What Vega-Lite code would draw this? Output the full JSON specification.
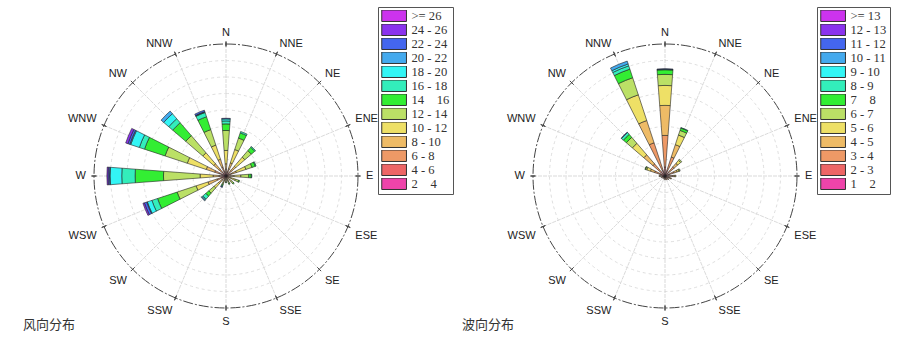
{
  "$schema": "https://vega.github.io/schema/vega-lite/v6.json",
  "padding": 0,
  "background": "white",
  "spacing": 0,
  "bounds": "flush",
  "config": {"view": {"stroke": null}, "text": {"font": "Liberation Sans", "fontSize": 11, "color": "#222", "radius": 140}},
  "datasets": {
    "rings": [{"r": 1}, {"r": 2}, {"r": 3}, {"r": 4}, {"r": 5}, {"r": 6}, {"r": 7}, {"r": 8}],
    "wind": [
      {"dir": "N", "deg": 0, "b01": 0.09, "b02": 0.15, "b03": 0.18, "b04": 0.32, "b05": 0.81, "b06": 1.21, "b07": 0.40, "b08": 0.18, "b09": 0.12, "b11": 0.04},
      {"dir": "NNE", "deg": 22.5, "b01": 0.09, "b02": 0.15, "b03": 0.21, "b04": 0.39, "b05": 0.85, "b06": 0.73, "b07": 0.33, "b08": 0.09},
      {"dir": "NE", "deg": 45, "b01": 0.09, "b02": 0.15, "b03": 0.21, "b04": 0.33, "b05": 0.73, "b06": 0.52, "b07": 0.27, "b08": 0.06},
      {"dir": "ENE", "deg": 67.5, "b01": 0.09, "b02": 0.12, "b03": 0.18, "b04": 0.27, "b05": 0.61, "b06": 0.39, "b07": 0.21, "b08": 0.05},
      {"dir": "E", "deg": 90, "b01": 0.06, "b02": 0.09, "b03": 0.12, "b04": 0.21, "b05": 0.42, "b06": 0.48, "b07": 0.15, "b08": 0.03},
      {"dir": "ESE", "deg": 112.5, "b01": 0.05, "b02": 0.07, "b03": 0.09, "b04": 0.15, "b05": 0.24, "b06": 0.21, "b07": 0.06},
      {"dir": "SE", "deg": 135, "b01": 0.06, "b02": 0.06, "b03": 0.09, "b04": 0.09, "b05": 0.15, "b06": 0.15, "b07": 0.06},
      {"dir": "SSE", "deg": 157.5, "b01": 0.05, "b02": 0.06, "b03": 0.06, "b04": 0.07, "b05": 0.12, "b06": 0.12, "b07": 0.06},
      {"dir": "S", "deg": 180, "b01": 0.05, "b02": 0.06, "b03": 0.06, "b04": 0.07, "b05": 0.09, "b06": 0.06, "b07": 0.03},
      {"dir": "SSW", "deg": 202.5, "b01": 0.03, "b02": 0.06, "b03": 0.09, "b04": 0.12, "b05": 0.12, "b06": 0.12, "b07": 0.09, "b08": 0.06, "b11": 0.04},
      {"dir": "SW", "deg": 225, "b01": 0.06, "b02": 0.12, "b03": 0.15, "b04": 0.27, "b05": 0.36, "b06": 0.42, "b07": 0.24, "b08": 0.24, "b09": 0.06, "b10": 0.06},
      {"dir": "WSW", "deg": 247.5, "b01": 0.12, "b02": 0.18, "b03": 0.27, "b04": 0.58, "b05": 0.76, "b06": 1.21, "b07": 1.25, "b08": 0.36, "b09": 0.29, "b10": 0.04, "b11": 0.15, "b12": 0.09},
      {"dir": "W", "deg": 270, "b01": 0.12, "b02": 0.12, "b03": 0.18, "b04": 0.36, "b05": 0.79, "b06": 2.22, "b07": 1.72, "b08": 0.81, "b09": 0.71, "b10": 0.03, "b11": 0.09, "b12": 0.07},
      {"dir": "WNW", "deg": 292.5, "b01": 0.18, "b02": 0.24, "b03": 0.30, "b04": 0.54, "b05": 1.21, "b06": 1.42, "b07": 1.31, "b08": 0.33, "b09": 0.55, "b10": 0.06, "b11": 0.12, "b12": 0.14},
      {"dir": "NW", "deg": 315, "b01": 0.12, "b02": 0.18, "b03": 0.24, "b04": 0.44, "b05": 0.88, "b06": 1.36, "b07": 1.04, "b08": 0.32, "b09": 0.40, "b10": 0.21},
      {"dir": "NNW", "deg": 337.5, "b01": 0.12, "b02": 0.18, "b03": 0.27, "b04": 0.50, "b05": 0.90, "b06": 0.99, "b07": 0.82, "b08": 0.27, "b09": 0.03, "b10": 0.03, "b11": 0.09}
    ],
    "wave": [
      {"dir": "N", "deg": 0, "b01": 0.18, "b02": 0.36, "b03": 1.92, "b04": 1.82, "b05": 1.21, "b06": 0.67, "b07": 0.28, "b08": 0.03, "b11": 0.03},
      {"dir": "NNE", "deg": 22.5, "b01": 0.12, "b02": 0.24, "b03": 0.85, "b04": 0.79, "b05": 0.61, "b06": 0.30, "b07": 0.15, "b08": 0.03},
      {"dir": "NE", "deg": 45, "b01": 0.12, "b02": 0.18, "b03": 0.42, "b04": 0.30, "b05": 0.24, "b06": 0.08},
      {"dir": "ENE", "deg": 67.5, "b01": 0.09, "b02": 0.18, "b03": 0.30, "b04": 0.21, "b05": 0.12, "b06": 0.06},
      {"dir": "E", "deg": 90, "b01": 0.09, "b02": 0.15, "b03": 0.24, "b04": 0.12, "b05": 0.06},
      {"dir": "ESE", "deg": 112.5, "b01": 0.09, "b02": 0.12, "b03": 0.15, "b04": 0.06},
      {"dir": "SE", "deg": 135, "b01": 0.06, "b02": 0.09, "b03": 0.12, "b04": 0.03},
      {"dir": "SSE", "deg": 157.5, "b01": 0.06, "b02": 0.09, "b03": 0.09},
      {"dir": "S", "deg": 180, "b01": 0.06, "b02": 0.09, "b03": 0.09},
      {"dir": "SSW", "deg": 202.5, "b01": 0.06, "b02": 0.06, "b03": 0.06},
      {"dir": "SW", "deg": 225, "b01": 0.06, "b02": 0.06, "b03": 0.06},
      {"dir": "WSW", "deg": 247.5, "b01": 0.06, "b02": 0.09, "b03": 0.09},
      {"dir": "W", "deg": 270, "b01": 0.06, "b02": 0.12, "b03": 0.12, "b04": 0.06},
      {"dir": "WNW", "deg": 292.5, "b01": 0.12, "b02": 0.18, "b03": 0.36, "b04": 0.27, "b05": 0.24, "b06": 0.08, "b07": 0.03},
      {"dir": "NW", "deg": 315, "b01": 0.12, "b02": 0.24, "b03": 0.61, "b04": 0.73, "b05": 0.91, "b06": 0.48, "b07": 0.24, "b08": 0.15, "b11": 0.03},
      {"dir": "NNW", "deg": 337.5, "b01": 0.12, "b02": 0.24, "b03": 1.76, "b04": 1.42, "b05": 1.64, "b06": 1.09, "b07": 0.55, "b08": 0.21, "b09": 0.12, "b10": 0.18}
    ]
  },
  "resolve": {"scale": {"color": "independent", "theta": "independent", "radius": "independent"}, "legend": {"color": "independent"}},
  "hconcat": [
    {
      "width": 452,
      "height": 352,
      "title": {"text": "风向分布", "orient": "bottom", "anchor": "start", "dx": 23, "offset": -33, "font": "Noto Sans CJK SC", "fontSize": 13, "fontWeight": "normal", "color": "#333"},
      "data": {"name": "wind"},
      "layer": [
        {
          "mark": {"type": "arc", "filled": false, "stroke": "#cfcfcf", "strokeDash": [2, 3], "strokeWidth": 0.8, "strokeJoin": "bevel"},
          "encoding": {
            "theta": {"field": "deg", "type": "quantitative", "stack": null, "scale": {"domain": [0, 360], "range": [0, 6.283185]}},
            "theta2": {"field": "deg"},
            "radius": {"datum": 8, "type": "quantitative", "stack": null, "scale": {"type": "linear", "domain": [0, 8], "range": [0, 132], "zero": true, "nice": false}}
          }
        },
        {
          "data": {"name": "rings"},
          "transform": [{"filter": "datum.r < 8"}],
          "mark": {"type": "arc", "theta": 0, "theta2": 6.4, "filled": false, "stroke": "#d6d6d6", "strokeDash": [3, 3], "strokeWidth": 0.8},
          "encoding": {"radius": {"field": "r", "type": "quantitative", "stack": null}}
        },
        {
          "data": {"name": "rings"},
          "transform": [{"filter": "datum.r == 8"}],
          "mark": {"type": "arc", "theta": 0, "theta2": 6.4, "filled": false, "stroke": "#444", "strokeDash": [10, 2, 2, 2], "strokeWidth": 1},
          "encoding": {"radius": {"field": "r", "type": "quantitative", "stack": null}}
        },
        {
          "mark": {"type": "arc", "filled": false, "stroke": "#444", "strokeWidth": 1, "strokeJoin": "bevel"},
          "encoding": {
            "theta": {"field": "deg", "type": "quantitative", "stack": null},
            "theta2": {"field": "deg"},
            "radius": {"datum": 8.15, "type": "quantitative", "stack": null},
            "radius2": {"datum": 7.85}
          }
        },
        {
          "transform": [
            {"fold": ["b01", "b02", "b03", "b04", "b05", "b06", "b07", "b08", "b09", "b10", "b11", "b12", "b13"], "as": ["bin", "f"]},
            {"filter": "datum.f > 0"},
            {"stack": "f", "groupby": ["deg"], "sort": [{"field": "bin", "order": "ascending"}], "as": ["r0", "r1"]}
          ],
          "mark": {"type": "arc", "thetaOffset": -0.075, "theta2Offset": 0.075, "stroke": "#222", "strokeWidth": 0.6},
          "encoding": {
            "theta": {"field": "deg", "type": "quantitative", "stack": null},
            "theta2": {"field": "deg"},
            "radius": {"field": "r1", "type": "quantitative", "stack": null},
            "radius2": {"field": "r0"},
            "color": {
              "field": "bin", "type": "nominal",
              "scale": {"domain": ["b13", "b12", "b11", "b10", "b09", "b08", "b07", "b06", "b05", "b04", "b03", "b02", "b01"],
                        "range": ["#CC33EE", "#8A33EE", "#4466EE", "#44AAEE", "#33F5F5", "#33EEBB", "#33EE33", "#BBE066", "#EEE066", "#EEBB66", "#EE9966", "#EE6666", "#EE44AA"]},
              "legend": {
                "orient": "none", "legendX": 378, "legendY": 7, "title": null,
                "symbolType": "M-1,-1H3.3V1H-1Z", "symbolSize": 132, "symbolStrokeColor": "#333", "symbolStrokeWidth": 1, "symbolOpacity": 1,
                "labelFont": "Liberation Serif", "labelFontSize": 12.6, "labelColor": "#333", "labelOffset": 17.5, "rowPadding": 0, "clipHeight": 11.5,
                "padding": 3, "strokeColor": "#555",
                "labelExpr": "{'b13':'>= 26','b12':'24 - 26','b11':'22 - 24','b10':'20 - 22','b09':'18 - 20','b08':'16 - 18','b07':'14\u00a0\u00a0\u00a0\u00a016','b06':'12 - 14','b05':'10 - 12','b04':'8 - 10','b03':'6 - 8','b02':'4 - 6','b01':'2\u00a0\u00a0\u00a0\u00a04'}[datum.value]"
              }
            }
          }
        },
        {"transform": [{"filter": "datum.deg == 0"}], "mark": {"type": "text", "align": "center", "baseline": "alphabetic"}, "encoding": {"theta": {"field": "deg", "type": "quantitative", "stack": null}, "text": {"field": "dir"}}},
        {"transform": [{"filter": "datum.deg > 0 && datum.deg < 90"}], "mark": {"type": "text", "align": "left", "baseline": "alphabetic"}, "encoding": {"theta": {"field": "deg", "type": "quantitative", "stack": null}, "text": {"field": "dir"}}},
        {"transform": [{"filter": "datum.deg == 90"}], "mark": {"type": "text", "align": "left", "baseline": "middle"}, "encoding": {"theta": {"field": "deg", "type": "quantitative", "stack": null}, "text": {"field": "dir"}}},
        {"transform": [{"filter": "datum.deg > 90 && datum.deg < 180"}], "mark": {"type": "text", "align": "left", "baseline": "top"}, "encoding": {"theta": {"field": "deg", "type": "quantitative", "stack": null}, "text": {"field": "dir"}}},
        {"transform": [{"filter": "datum.deg == 180"}], "mark": {"type": "text", "align": "center", "baseline": "top"}, "encoding": {"theta": {"field": "deg", "type": "quantitative", "stack": null}, "text": {"field": "dir"}}},
        {"transform": [{"filter": "datum.deg > 180 && datum.deg < 270"}], "mark": {"type": "text", "align": "right", "baseline": "top"}, "encoding": {"theta": {"field": "deg", "type": "quantitative", "stack": null}, "text": {"field": "dir"}}},
        {"transform": [{"filter": "datum.deg == 270"}], "mark": {"type": "text", "align": "right", "baseline": "middle"}, "encoding": {"theta": {"field": "deg", "type": "quantitative", "stack": null}, "text": {"field": "dir"}}},
        {"transform": [{"filter": "datum.deg > 270"}], "mark": {"type": "text", "align": "right", "baseline": "alphabetic"}, "encoding": {"theta": {"field": "deg", "type": "quantitative", "stack": null}, "text": {"field": "dir"}}}
      ]
    },
    {
      "width": 426,
      "height": 352,
      "title": {"text": "波向分布", "orient": "bottom", "anchor": "start", "dx": 10, "offset": -33, "font": "Noto Sans CJK SC", "fontSize": 13, "fontWeight": "normal", "color": "#333"},
      "data": {"name": "wave"},
      "layer": [
        {
          "mark": {"type": "arc", "filled": false, "stroke": "#cfcfcf", "strokeDash": [2, 3], "strokeWidth": 0.8, "strokeJoin": "bevel"},
          "encoding": {
            "theta": {"field": "deg", "type": "quantitative", "stack": null, "scale": {"domain": [0, 360], "range": [0, 6.283185]}},
            "theta2": {"field": "deg"},
            "radius": {"datum": 8, "type": "quantitative", "stack": null, "scale": {"type": "linear", "domain": [0, 8], "range": [0, 132], "zero": true, "nice": false}}
          }
        },
        {
          "data": {"name": "rings"},
          "transform": [{"filter": "datum.r < 8"}],
          "mark": {"type": "arc", "theta": 0, "theta2": 6.4, "filled": false, "stroke": "#d6d6d6", "strokeDash": [3, 3], "strokeWidth": 0.8},
          "encoding": {"radius": {"field": "r", "type": "quantitative", "stack": null}}
        },
        {
          "data": {"name": "rings"},
          "transform": [{"filter": "datum.r == 8"}],
          "mark": {"type": "arc", "theta": 0, "theta2": 6.4, "filled": false, "stroke": "#444", "strokeDash": [10, 2, 2, 2], "strokeWidth": 1},
          "encoding": {"radius": {"field": "r", "type": "quantitative", "stack": null}}
        },
        {
          "mark": {"type": "arc", "filled": false, "stroke": "#444", "strokeWidth": 1, "strokeJoin": "bevel"},
          "encoding": {
            "theta": {"field": "deg", "type": "quantitative", "stack": null},
            "theta2": {"field": "deg"},
            "radius": {"datum": 8.15, "type": "quantitative", "stack": null},
            "radius2": {"datum": 7.85}
          }
        },
        {
          "transform": [
            {"fold": ["b01", "b02", "b03", "b04", "b05", "b06", "b07", "b08", "b09", "b10", "b11", "b12", "b13"], "as": ["bin", "f"]},
            {"filter": "datum.f > 0"},
            {"stack": "f", "groupby": ["deg"], "sort": [{"field": "bin", "order": "ascending"}], "as": ["r0", "r1"]}
          ],
          "mark": {"type": "arc", "thetaOffset": -0.075, "theta2Offset": 0.075, "stroke": "#222", "strokeWidth": 0.6},
          "encoding": {
            "theta": {"field": "deg", "type": "quantitative", "stack": null},
            "theta2": {"field": "deg"},
            "radius": {"field": "r1", "type": "quantitative", "stack": null},
            "radius2": {"field": "r0"},
            "color": {
              "field": "bin", "type": "nominal",
              "scale": {"domain": ["b13", "b12", "b11", "b10", "b09", "b08", "b07", "b06", "b05", "b04", "b03", "b02", "b01"],
                        "range": ["#CC33EE", "#8A33EE", "#4466EE", "#44AAEE", "#33F5F5", "#33EEBB", "#33EE33", "#BBE066", "#EEE066", "#EEBB66", "#EE9966", "#EE6666", "#EE44AA"]},
              "legend": {
                "orient": "none", "legendX": 365, "legendY": 7, "title": null,
                "symbolType": "M-1,-1H3.3V1H-1Z", "symbolSize": 132, "symbolStrokeColor": "#333", "symbolStrokeWidth": 1, "symbolOpacity": 1,
                "labelFont": "Liberation Serif", "labelFontSize": 12.6, "labelColor": "#333", "labelOffset": 17.5, "rowPadding": 0, "clipHeight": 11.5,
                "padding": 3, "strokeColor": "#555",
                "labelExpr": "{'b13':'>= 13','b12':'12 - 13','b11':'11 - 12','b10':'10 - 11','b09':'9 - 10','b08':'8 - 9','b07':'7\u00a0\u00a0\u00a0\u00a08','b06':'6 - 7','b05':'5 - 6','b04':'4 - 5','b03':'3 - 4','b02':'2 - 3','b01':'1\u00a0\u00a0\u00a0\u00a02'}[datum.value]"
              }
            }
          }
        },
        {"transform": [{"filter": "datum.deg == 0"}], "mark": {"type": "text", "align": "center", "baseline": "alphabetic"}, "encoding": {"theta": {"field": "deg", "type": "quantitative", "stack": null}, "text": {"field": "dir"}}},
        {"transform": [{"filter": "datum.deg > 0 && datum.deg < 90"}], "mark": {"type": "text", "align": "left", "baseline": "alphabetic"}, "encoding": {"theta": {"field": "deg", "type": "quantitative", "stack": null}, "text": {"field": "dir"}}},
        {"transform": [{"filter": "datum.deg == 90"}], "mark": {"type": "text", "align": "left", "baseline": "middle"}, "encoding": {"theta": {"field": "deg", "type": "quantitative", "stack": null}, "text": {"field": "dir"}}},
        {"transform": [{"filter": "datum.deg > 90 && datum.deg < 180"}], "mark": {"type": "text", "align": "left", "baseline": "top"}, "encoding": {"theta": {"field": "deg", "type": "quantitative", "stack": null}, "text": {"field": "dir"}}},
        {"transform": [{"filter": "datum.deg == 180"}], "mark": {"type": "text", "align": "center", "baseline": "top"}, "encoding": {"theta": {"field": "deg", "type": "quantitative", "stack": null}, "text": {"field": "dir"}}},
        {"transform": [{"filter": "datum.deg > 180 && datum.deg < 270"}], "mark": {"type": "text", "align": "right", "baseline": "top"}, "encoding": {"theta": {"field": "deg", "type": "quantitative", "stack": null}, "text": {"field": "dir"}}},
        {"transform": [{"filter": "datum.deg == 270"}], "mark": {"type": "text", "align": "right", "baseline": "middle"}, "encoding": {"theta": {"field": "deg", "type": "quantitative", "stack": null}, "text": {"field": "dir"}}},
        {"transform": [{"filter": "datum.deg > 270"}], "mark": {"type": "text", "align": "right", "baseline": "alphabetic"}, "encoding": {"theta": {"field": "deg", "type": "quantitative", "stack": null}, "text": {"field": "dir"}}}
      ]
    }
  ]
}
